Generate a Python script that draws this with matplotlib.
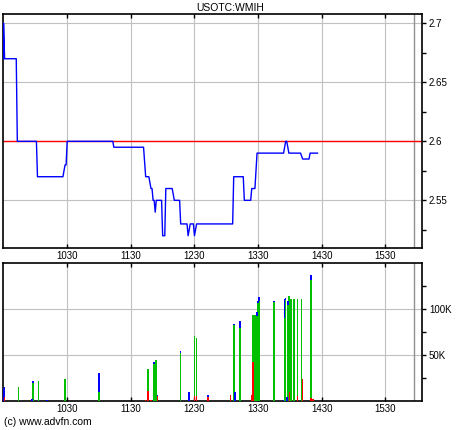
import matplotlib
matplotlib.use("Agg")
import matplotlib.pyplot as plt
from matplotlib.ticker import FixedLocator, MultipleLocator

plt.rcParams['font.family'] = ['Liberation Sans', 'DejaVu Sans']
plt.rcParams['font.size'] = 7

TITLE = "USOTC:WMIH"
PREV_CLOSE = 2.6

# price line (clock time, price)
price_times = ["9:30", "9:30", "9:31", "9:42", "9:43", "10:01", "10:02", "10:26", "10:28",
               "10:29", "10:30", "11:13", "11:14", "11:42", "11:44", "11:47", "11:49",
               "11:50", "11:51", "11:52", "11:53", "11:54", "11:59", "12:00", "12:02",
               "12:03", "12:09", "12:11", "12:16", "12:17", "12:23", "12:24", "12:26",
               "12:29", "12:30", "12:32", "13:06", "13:07", "13:16", "13:17", "13:23",
               "13:24", "13:27", "13:29", "13:54", "13:56", "13:57", "13:59", "14:10",
               "14:12", "14:18", "14:19", "14:26"]
prices = [2.67, 2.70, 2.67, 2.67, 2.60, 2.60, 2.57, 2.57, 2.58,
          2.58, 2.60, 2.60, 2.595, 2.595, 2.57, 2.57, 2.56,
          2.56, 2.55, 2.55, 2.54, 2.55, 2.55, 2.52, 2.52,
          2.56, 2.56, 2.55, 2.55, 2.53, 2.53, 2.52, 2.53,
          2.53, 2.52, 2.53, 2.53, 2.57, 2.57, 2.55, 2.55,
          2.56, 2.56, 2.59, 2.59, 2.60, 2.60, 2.59, 2.59,
          2.585, 2.585, 2.59, 2.59]

# volume bars, stacked red / green / blue (shares)
vol_times = ["9:30", "9:31", "9:44", "9:57", "9:58", "10:03", "10:11", "10:28", "11:00",
             "11:44", "11:46", "11:49", "11:52", "11:54", "11:55", "12:17", "12:25",
             "12:30", "12:32", "12:43", "13:04", "13:07", "13:08", "13:13", "13:24",
             "13:25", "13:27", "13:29", "13:30", "13:31", "13:45", "13:54", "13:55",
             "13:56", "13:57", "13:58", "13:59", "14:00", "14:01", "14:04", "14:07",
             "14:11", "14:12", "14:20", "14:22"]
vol_red = [0, 4500, 0, 0, 0, 0, 0, 0, 0,
           1000, 11000, 1000, 0, 0, 5400, 0, 0,
           5400, 5400, 4700, 6900, 0, 0, 0, 6200,
           42400, 0, 0, 12300, 0, 0, 0, 0,
           0, 0, 0, 9800, 6000, 0, 0, 5400,
           0, 24000, 3600, 1700]
vol_green = [0, 0, 15600, 0, 19600, 22000, 0, 24000, 9400,
             0, 23800, 0, 39900, 44600, 0, 52200, 0,
             65200, 63000, 0, 0, 82600, 0, 79000, 0,
             51800, 94200, 92300, 94600, 108700, 107600, 0, 90600,
             110000, 0, 104300, 104200, 0, 111600, 111600, 106200,
             111600, 0, 128000, 0]
vol_blue = [14000, 11000, 0, 2500, 2400, 0, 1500, 0, 20600,
            0, 0, 0, 2500, 0, 600, 1800, 10000,
            0, 0, 1300, 0, 1400, 9800, 8300, 0,
            0, 0, 4700, 1800, 4300, 1100, 1500, 20400,
            2500, 4700, 4400, 0, 0, 0, 0, 0,
            0, 0, 5400, 0]

hour_ticks = ["10:30", "11:30", "12:30", "13:30", "14:30", "15:30"]
hour_labels = ["1030", "1130", "1230", "1330", "1430", "1530"]
session_end = "15:57"


def to_min(s):
    h, m = s.split(":")
    return int(h) * 60 + int(m)


pt = [to_min(t) for t in price_times]
vt = [to_min(t) for t in vol_times]
xt = [to_min(t) for t in hour_ticks]
XLIM = (569.5, 964.5)
GRID = "#c0c0c0"

fig = plt.figure(figsize=(4.6, 4.3), dpi=100)
ax1 = fig.add_axes([3 / 460, 1 - 248 / 430, 419 / 460, 234 / 430])
ax2 = fig.add_axes([3 / 460, 1 - 401 / 430, 419 / 460, 137.7 / 430])

# price panel
ax1.plot(pt, prices, color="#0000ff", lw=1.0, zorder=3)
ax1.axhline(PREV_CLOSE, color="#ff0000", lw=1.0, zorder=2)
ax1.set_xlim(*XLIM)
ax1.set_ylim(2.5096, 2.7079)
ax1.yaxis.tick_right()
ax1.set_yticks([2.55, 2.6, 2.65, 2.7])
ax1.set_yticklabels(["2.55", "2.6", "2.65", "2.7"])
ax1.yaxis.set_minor_locator(MultipleLocator(0.025))
ax1.set_xticks(xt)
ax1.tick_params(axis="x", which="both", direction="in", top=True, bottom=True,
                labelbottom=False, length=3, width=1)

# volume panel
b_green = [r + g for r, g in zip(vol_red, vol_green)]
bar_kw = dict(width=1.5, lw=0, zorder=3, antialiased=False)
ax2.bar(vt, vol_red, color="#ff0000", **bar_kw)
ax2.bar(vt, vol_green, bottom=vol_red, color="#00c000", **bar_kw)
ax2.bar(vt, vol_blue, bottom=b_green, color="#0000ff", **bar_kw)
ax2.set_xlim(*XLIM)
ax2.set_ylim(0, 150000)
ax2.yaxis.tick_right()
ax2.set_yticks([50000, 100000])
ax2.set_yticklabels(["50K", "100K"])
ax2.yaxis.set_minor_locator(FixedLocator([25000, 75000, 125000]))
ax2.set_xticks(xt)
ax2.set_xticklabels(hour_labels)
ax2.tick_params(axis="x", which="both", direction="in", top=True, bottom=True,
                labeltop=True, labelbottom=True, length=3, width=1, pad=2)

for ax in (ax1, ax2):
    ax.grid(True, color=GRID, lw=0.8, zorder=0)
    ax.axvline(to_min(session_end), color="#909090", lw=1.0, zorder=1)
    ax.tick_params(axis="y", which="major", direction="out", length=3, width=1, pad=2)
    ax.tick_params(axis="y", which="minor", direction="out", length=3, width=1)
    for s in ax.spines.values():
        s.set_linewidth(1.2)
    ax.set_axisbelow(True)

fig.text(0.5, 1 - 8 / 430, TITLE, ha="center", va="center", fontsize=7.5)
fig.text(4 / 460, 1 - 422 / 430, "(c) www.advfn.com", ha="left", va="center", fontsize=7.5)

fig.savefig("out.png", dpi=100)
